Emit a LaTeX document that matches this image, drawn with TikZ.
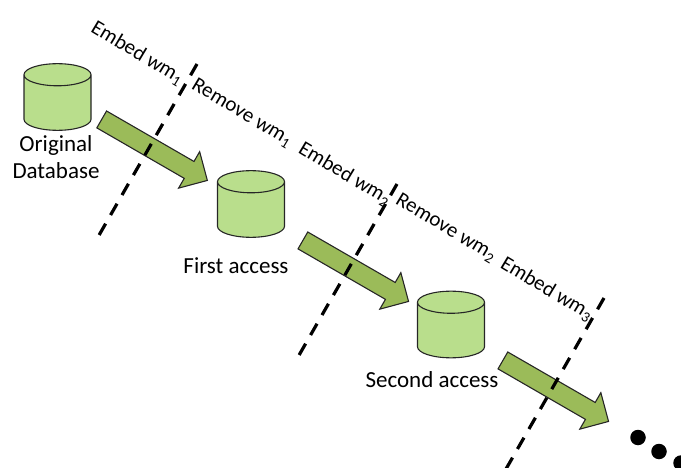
\documentclass[tikz,border=0pt]{standalone}
\usepackage{fontspec}
\setmainfont{Carlito}
\usetikzlibrary{shapes.geometric, shapes.arrows}

\definecolor{dbgreen}{HTML}{B9DE8C}
\definecolor{arrowgreen}{HTML}{9BBB59}

\tikzset{
    database/.style={draw=black!85, fill=dbgreen, line width=1.1pt, cylinder, shape border rotate=90,
        aspect=0.33, inner xsep=33.5pt, inner ysep=22pt, anchor=shape center},
    flowarrow/.style={draw=black!85, fill=arrowgreen, line width=1.1pt, single arrow, rotate=-30,
        minimum height=122pt, single arrow head extend=11.3pt, inner xsep=0pt, inner ysep=9.2pt},
    cut/.style={black, line width=3.2pt, dash pattern=on 13pt off 10pt},
    lbl/.style={font=\fontsize{23}{27}\selectfont, inner sep=0pt},
    steplbl/.style={font=\fontsize{21}{24}\selectfont, inner sep=0pt, rotate=-31},
    dot/.style={circle, fill=black, inner sep=0pt, minimum size=15.5pt}
}

\begin{document}
\begin{tikzpicture}[x=1pt, y=-1pt]
            \clip (0,0) rectangle (681,468);

            \node[database] (c1) at (57.5,97) {};
            \node[database] (c2) at (251,204) {};
            \node[database] (c3) at (451,324.5) {};

            \node[lbl, align=center] (t1) at (56,157) {Original\\Database};
            \node[lbl] (t2) at (236,266) {First access};
            \node[lbl] (t3) at (432,380) {Second access};

            \foreach \x\px\py in {1/150.3/147.5,2/351.5/268.5,3/551.5/388.5} {
                \node[flowarrow] (a\x) at (\px,\py) {};
            }

            \coordinate (u1) at (197,64);
            \coordinate (v1) at (98,237);
            \coordinate (u2) at (397,184);
            \coordinate (v2) at (298,357);
            \coordinate (u3) at (604,298);
            \coordinate (v3) at (502,476);
            \foreach \x in {1,2,3} {
                \draw[cut] (u\x) -- (v\x);
            }

            \node[steplbl] (e1) at (137.5,53) {Embed wm\textsubscript{1}};
            \node[steplbl] (r1) at (242,113) {Remove wm\textsubscript{1}};
            \node[steplbl] (e2) at (345,174) {Embed wm\textsubscript{2}};
            \node[steplbl] (r2) at (446,228) {Remove wm\textsubscript{2}};
            \node[steplbl] (e3) at (547,289) {Embed wm\textsubscript{3}};

            \node[dot] (d1) at (638,437.5) {};
            \node[dot] (d2) at (659,451.5) {};
            \node[dot] (d3) at (681,463) {};
        \end{tikzpicture}
\end{document}
